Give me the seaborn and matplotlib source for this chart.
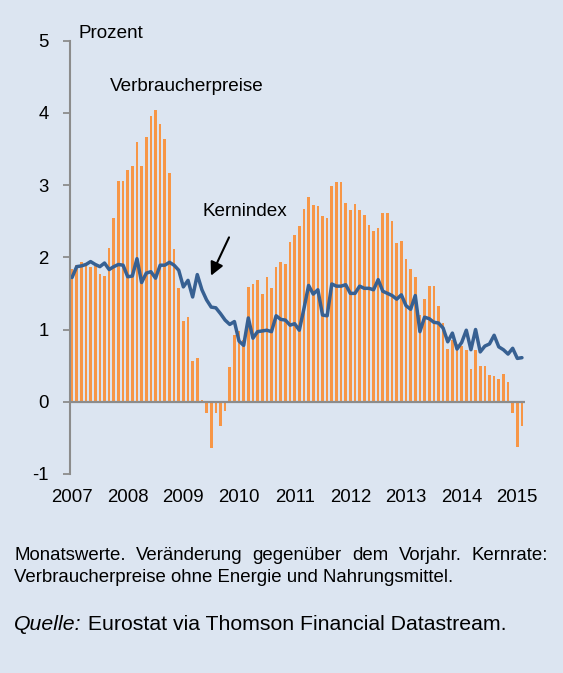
import seaborn as sns
import matplotlib.pyplot as plt
import pandas as pd

# Monatswerte Jan 2007 - Feb 2015, Veränderung gegenüber Vorjahr in %
verbraucherpreise = [
    1.84, 1.89, 1.93, 1.89, 1.87, 1.88, 1.77, 1.74, 2.13, 2.55, 3.06, 3.06,  # 2007
    3.21, 3.26, 3.59, 3.26, 3.66, 3.96, 4.04, 3.84, 3.63, 3.16, 2.11, 1.57,  # 2008
    1.12, 1.17, 0.56, 0.61, 0.02, -0.15, -0.64, -0.16, -0.34, -0.13, 0.48, 0.92,  # 2009
    0.98, 0.86, 1.59, 1.63, 1.68, 1.49, 1.72, 1.58, 1.87, 1.94, 1.91, 2.21,  # 2010
    2.31, 2.43, 2.67, 2.83, 2.72, 2.71, 2.57, 2.55, 2.98, 3.04, 3.04, 2.75,  # 2011
    2.66, 2.74, 2.66, 2.58, 2.44, 2.37, 2.41, 2.61, 2.61, 2.50, 2.20, 2.22,  # 2012
    1.98, 1.84, 1.73, 1.20, 1.42, 1.60, 1.60, 1.33, 1.09, 0.73, 0.85, 0.80,  # 2013
    0.77, 0.71, 0.46, 0.71, 0.49, 0.49, 0.37, 0.36, 0.31, 0.38, 0.27, -0.16,  # 2014
    -0.62, -0.33,  # 2015
]
kernindex = [
    1.72, 1.87, 1.88, 1.90, 1.94, 1.90, 1.87, 1.92, 1.83, 1.87, 1.90, 1.89,
    1.73, 1.74, 1.98, 1.65, 1.78, 1.80, 1.71, 1.89, 1.89, 1.93, 1.89, 1.82,
    1.59, 1.68, 1.45, 1.76, 1.55, 1.41, 1.31, 1.30, 1.22, 1.13, 1.07, 1.11,
    0.84, 0.78, 1.16, 0.88, 0.97, 0.98, 0.99, 0.97, 1.19, 1.14, 1.13, 1.06,
    1.08, 0.99, 1.29, 1.61, 1.49, 1.55, 1.20, 1.19, 1.63, 1.60, 1.60, 1.62,
    1.50, 1.50, 1.60, 1.57, 1.57, 1.55, 1.69, 1.53, 1.50, 1.47, 1.42, 1.48,
    1.33, 1.28, 1.47, 0.97, 1.17, 1.15, 1.10, 1.09, 1.02, 0.83, 0.95, 0.73,
    0.82, 0.99, 0.72, 1.00, 0.69, 0.77, 0.80, 0.92, 0.76, 0.72, 0.66, 0.74,
    0.60, 0.61,
]
jahre = ['2007', '2008', '2009', '2010', '2011', '2012', '2013', '2014', '2015']

df = pd.DataFrame({'monat': range(len(verbraucherpreise)),
                   'vpi': verbraucherpreise,
                   'kern': kernindex})

bg = '#DCE5F1'
orange = '#F79646'
blau = '#376092'
grau = '#8C8C8C'

sns.set_theme(style='white', rc={'figure.facecolor': bg, 'axes.facecolor': bg})
plt.rcParams['font.family'] = ['Liberation Sans', 'DejaVu Sans']
plt.rcParams['text.color'] = 'black'

W, H = 563, 673
fig = plt.figure(figsize=(W / 100, H / 100), dpi=100)


def fx(px):
    return px / W


def fy(py):
    return 1 - py / H


ax = fig.add_axes([fx(69.5), fy(474), fx(524.5) - fx(69.5), fy(40.5) - fy(474)])

sns.barplot(data=df, x='monat', y='vpi', native_scale=True, color=orange,
            saturation=1, width=0.57, linewidth=0, ax=ax)
sns.lineplot(data=df, x='monat', y='kern', color=blau, linewidth=2.5, ax=ax)
ax.axhline(0, color=grau, lw=1.6, zorder=3)

ax.set_xlim(-0.55, 97.55)
ax.set_ylim(-1, 5)
ax.set_yticks(range(-1, 6))
ax.set_yticklabels([str(v) for v in range(-1, 6)])
ax.set_xticks(range(0, 12 * len(jahre), 12))
ax.set_xticklabels(jahre)
ax.set_xlabel('')
ax.set_ylabel('')

for s in ['top', 'right', 'bottom']:
    ax.spines[s].set_visible(False)
ax.spines['left'].set_color(grau)
ax.spines['left'].set_linewidth(1.5)
ax.tick_params(axis='y', direction='out', length=5, width=1.3, color=grau,
               pad=10, labelsize=13.4, labelcolor='black', left=True)
ax.tick_params(axis='x', length=0, pad=11, labelsize=13.4, labelcolor='black')

ax.text(8.2, 4.36, 'Verbraucherpreise', fontsize=13.6, va='center', ha='left')
ax.text(28.2, 2.64, 'Kernindex', fontsize=13.6, va='center', ha='left')
ax.annotate('', xy=(29.7, 1.71), xytext=(34.1, 2.31),
            arrowprops=dict(arrowstyle='-|>', color='black', lw=1.5,
                            mutation_scale=20))

fig.text(fx(79), fy(33), 'Prozent', fontsize=13.6, va='center', ha='left')

# Fußnote, erste Zeile im Blocksatz
renderer = fig.canvas.get_renderer()
woerter = ['Monatswerte.', 'Veränderung', 'gegenüber', 'dem', 'Vorjahr.', 'Kernrate:']
links, rechts = 14, 548
texte = [fig.text(0, fy(560), w, fontsize=13.4, va='baseline', ha='left') for w in woerter]
breiten = [t.get_window_extent(renderer).width for t in texte]
luecke = (rechts - links - sum(breiten)) / (len(woerter) - 1)
x = links
for t, b in zip(texte, breiten):
    t.set_x(fx(x))
    x += b + luecke

fig.text(fx(14), fy(582), 'Verbraucherpreise ohne Energie und Nahrungsmittel.',
         fontsize=13.4, va='baseline', ha='left')

q = fig.text(fx(14), fy(630), 'Quelle:', fontsize=15.3, style='italic',
             va='baseline', ha='left')
qb = q.get_window_extent(renderer).width
fig.text(fx(14 + qb), fy(630), ' Eurostat via Thomson Financial Datastream.',
         fontsize=15.3, va='baseline', ha='left')

plt.savefig('out.png', dpi=100, facecolor=bg)
